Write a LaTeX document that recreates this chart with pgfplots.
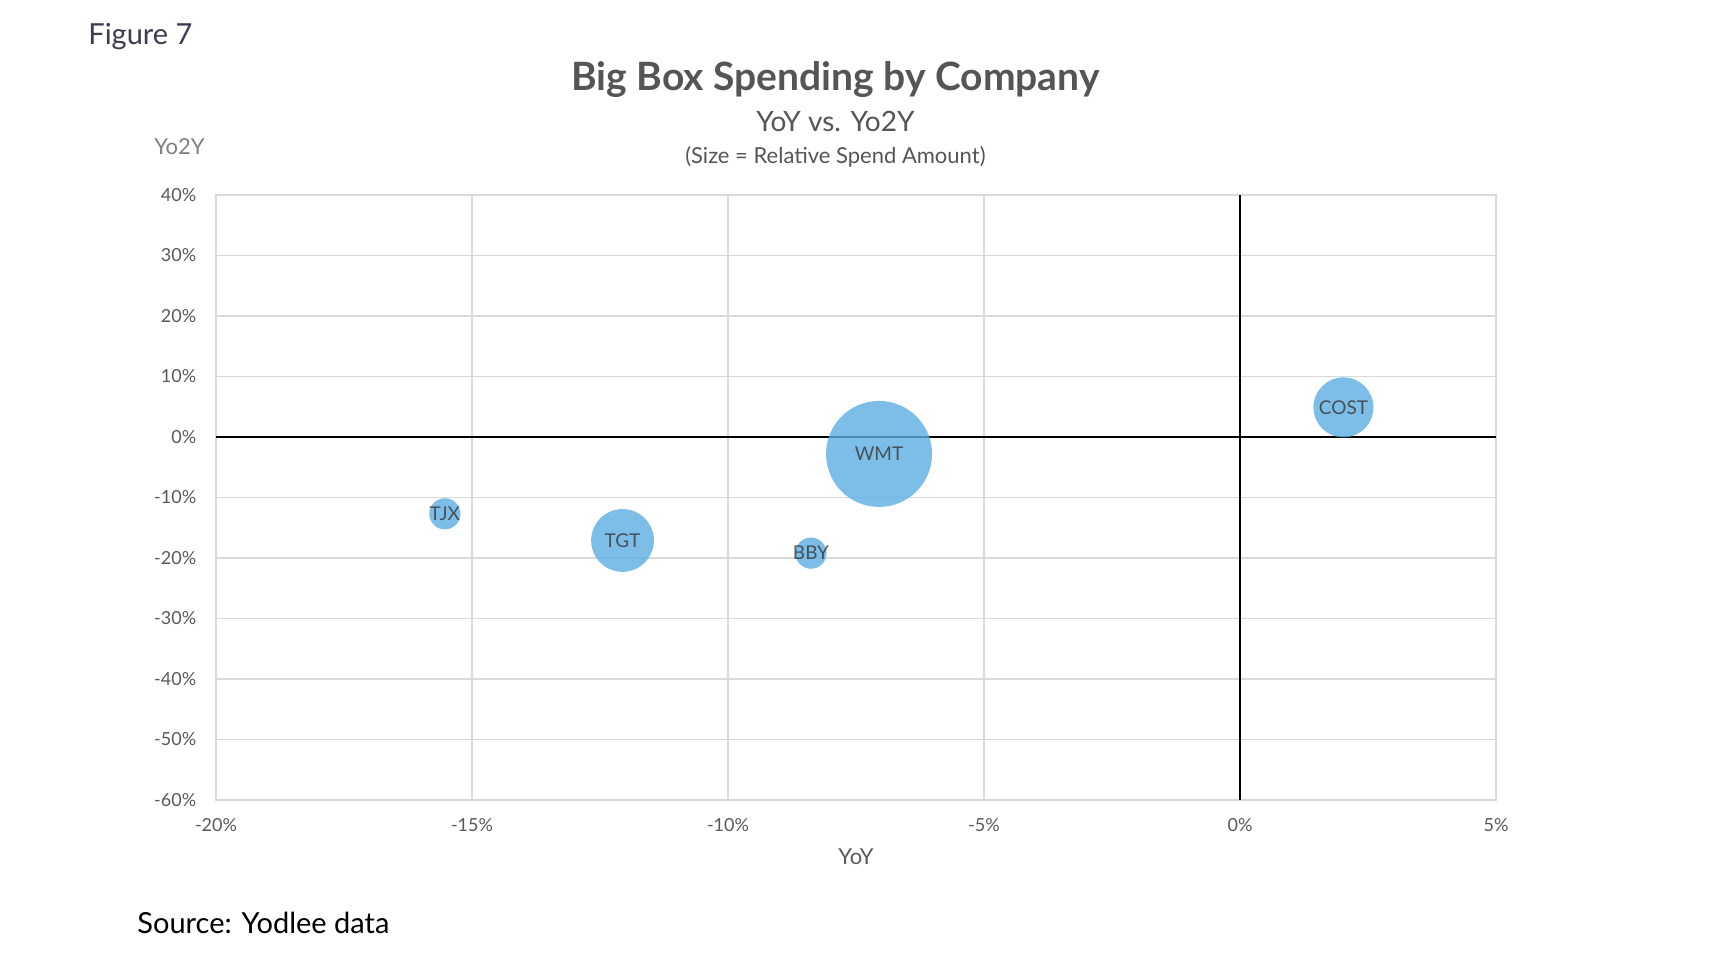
\documentclass[border=0pt]{standalone}
\usepackage{pgfplots}
\pgfplotsset{compat=1.18}
\usepackage{fontspec}
\setmainfont{Lato}

\definecolor{bubble}{RGB}{92,174,226}
\definecolor{gridgray}{RGB}{217,217,217}
\definecolor{ticktext}{RGB}{89,89,89}
\definecolor{titlegray}{RGB}{85,85,85}
\definecolor{figgray}{RGB}{60,60,82}
\definecolor{labeltext}{RGB}{55,55,55}

\pgfplotsset{
  bub/.style={
    only marks, mark=*, color=bubble,
    mark options={draw=bubble, draw opacity=0, fill=bubble, fill opacity=0.8},
    point meta=explicit symbolic,
    nodes near coords,
    every node near coord/.append style={anchor=center, font=\fontsize{9.5}{11}\selectfont, text=labeltext},
  },
}

\begin{document}
\begin{tikzpicture}
\path[use as bounding box] (-108pt,-82pt) rectangle (751pt,400pt);
\begin{axis}[
  at={(0,0)}, anchor=south west,
  scale only axis, width=640pt, height=302.5pt,
  xmin=-20, xmax=5, ymin=-60, ymax=40,
  xtick={-20,-15,...,5}, ytick={-60,-50,...,40},
  /pgf/number format/assume math mode=true,
  xticklabel={\pgfmathprintnumber{\tick}\%},
  yticklabel={\pgfmathprintnumber{\tick}\%},
  grid=major,
  major grid style={gridgray, line width=0.7pt},
  axis line style={gridgray, line width=0.7pt},
  tick style={draw=none},
  ticklabel style={font=\fontsize{9}{10}\selectfont, text=ticktext},
  xticklabel style={anchor=base, yshift=-15.8pt},
  yticklabel style={anchor=east, inner sep=0pt, xshift=-9.7pt},
  extra x ticks={0}, extra x tick labels={},
  extra x tick style={major grid style={black, line width=1.4pt}},
  extra y ticks={0}, extra y tick labels={},
  extra y tick style={major grid style={black, line width=1.4pt}},
]
% x = YoY (%), y = Yo2Y (%), mark size = relative spend
\addplot[bub, mark size=7.8pt]  coordinates {(-15.53,-12.7) [TJX]};
\addplot[bub, mark size=15.7pt] coordinates {(-12.06,-17.1) [TGT]};
\addplot[bub, mark size=7.8pt]  coordinates {(-8.38,-19.2) [BBY]};
\addplot[bub, mark size=26.5pt] coordinates {(-7.05,-2.8) [WMT]};
\addplot[bub, mark size=15pt]   coordinates {(2.02,4.9) [COST]};
\end{axis}
\node[anchor=base west, inner sep=0pt, font=\fontsize{14.5}{16}\selectfont, text=figgray] at (-64pt,377.5pt) {Figure 7};
\node[anchor=base, inner sep=0pt, font=\fontsize{19.5}{22}\selectfont\bfseries, text=titlegray] at (309.7pt,354.7pt) {Big Box Spending by Company};
\node[anchor=base, inner sep=0pt, font=\fontsize{14}{16}\selectfont, text=titlegray] at (309.7pt,334.2pt) {YoY vs. Yo2Y};
\node[anchor=base, inner sep=0pt, font=\fontsize{11}{13}\selectfont, text=titlegray] at (309.7pt,318.3pt) {(Size = Relative Spend Amount)};
\node[anchor=base west, inner sep=0pt, font=\fontsize{11}{12}\selectfont, text=gray] at (-31pt,322.5pt) {Yo2Y};
\node[anchor=base, inner sep=0pt, font=\fontsize{11}{12}\selectfont, text=ticktext] at (320pt,-32pt) {YoY};
\node[anchor=base west, inner sep=0pt, font=\fontsize{14.5}{16}\selectfont, text=black] at (-39.5pt,-66.7pt) {Source: Yodlee data};
\end{tikzpicture}
\end{document}
